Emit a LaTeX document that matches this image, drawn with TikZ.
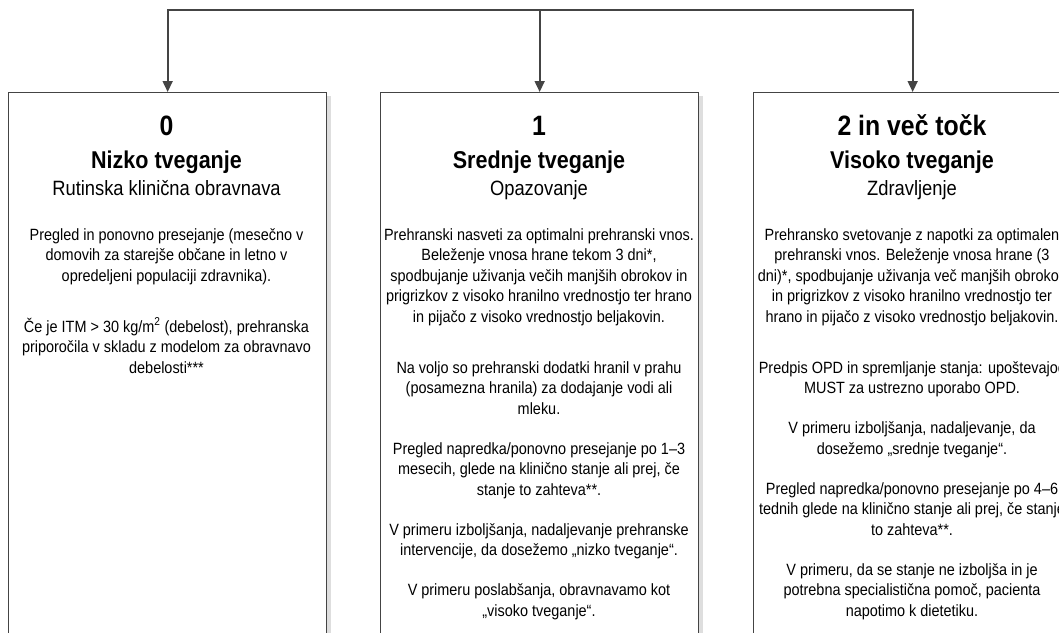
\documentclass[tikz,border=0pt]{standalone}
\usepackage{fontspec}
\setmainfont{Liberation Sans}
\newfontfamily\narrowsans[FakeStretch=0.886]{Liberation Sans}
\usetikzlibrary{arrows.meta,positioning}
\definecolor{edgegray}{HTML}{444444}
\definecolor{shadegray}{HTML}{DEDEDE}

\begin{document}
\begin{tikzpicture}[x=1pt,y=-1pt,
  riskbox/.style={draw=edgegray,line width=1.3pt,fill=white,minimum width=318pt,minimum height=560pt,inner sep=0pt,anchor=north west},
  bus/.style={draw=edgegray,line width=1.7pt},
  flow/.style={bus,-{Triangle[length=11pt,width=10pt]}},
  score/.style={anchor=base,inner sep=0pt,font=\narrowsans\bfseries\fontsize{28}{32}\selectfont},
  level/.style={anchor=base,inner sep=0pt,font=\narrowsans\bfseries\fontsize{24.3}{28}\selectfont},
  action/.style={anchor=base,inner sep=0pt,font=\narrowsans\fontsize{20.7}{24}\selectfont},
  advice/.style={anchor=north,inner sep=0pt,align=center,font=\narrowsans\fontsize{16.3}{20.5}\selectfont}]
\useasboundingbox (0,0) rectangle (1059,632);
\clip (0,0) rectangle (1059,632);
\foreach \bx/\nm in {8/0,380/1,753/2}{
  \fill[shadegray] (\bx+318.7,96) rectangle (\bx+322.5,640);
  \node[riskbox] (box\nm) at (\bx,92) {};
}
\coordinate (bus) at (box1.north |- 0,10);
\draw[flow] (bus) -| (box0.north);
\draw[flow] (bus) -| (box2.north);
\draw[flow] (bus) -- (box1.north);

\node[score] (score0) at (166.5,135) {0};
\node[level] (level0) at (166.5,168) {Nizko tveganje};
\node[action] (action0) at (166.5,195) {Rutinska klinična obravnava};
\node[advice] (advice0) at (166.5,225.6) {\strut Pregled in ponovno presejanje (mesečno v\\
  domovih za starejše občane in letno v\\
  opredeljeni populaciji zdravnika).\\[30.5pt]
  Če je ITM > 30 kg/m\textsuperscript{2} (debelost), prehranska\\
  priporočila v skladu z modelom za obravnavo\\
  debelosti***};

\node[score] (score1) at (539,135) {1};
\node[level] (level1) at (539,168) {Srednje tveganje};
\node[action] (action1) at (539,195) {Opazovanje};
\node[advice] (advice1) at (539,225.6) {\strut Prehranski nasveti za optimalni prehranski vnos.\\
  Beleženje vnosa hrane tekom 3 dni*,\\
  spodbujanje uživanja večih manjših obrokov in\\
  prigrizkov z visoko hranilno vrednostjo ter hrano\\
  in pijačo z visoko vrednostjo beljakovin.\\[30.5pt]
  Na voljo so prehranski dodatki hranil v prahu\\
  (posamezna hranila) za dodajanje vodi ali\\
  mleku.\\[19.5pt]
  Pregled napredka/ponovno presejanje po 1–3\\
  mesecih, glede na klinično stanje ali prej, če\\
  stanje to zahteva**.\\[19.5pt]
  V primeru izboljšanja, nadaljevanje prehranske\\
  intervencije, da dosežemo „nizko tveganje“.\\[19.5pt]
  V primeru poslabšanja, obravnavamo kot\\
  „visoko tveganje“.};

\node[score] (score2) at (912,135) {2 in več točk};
\node[level] (level2) at (912,168) {Visoko tveganje};
\node[action] (action2) at (912,195) {Zdravljenje};
\node[advice] (advice2) at (912,225.6) {\strut Prehransko svetovanje z napotki za optimalen\\
  prehranski vnos. Beleženje vnosa hrane (3\\
  dni)*, spodbujanje uživanja več manjših obrokov\\
  in prigrizkov z visoko hranilno vrednostjo ter\\
  hrano in pijačo z visoko vrednostjo beljakovin.\\[30.5pt]
  Predpis OPD in spremljanje stanja: upoštevajoč\\
  MUST za ustrezno uporabo OPD.\\[19.5pt]
  V primeru izboljšanja, nadaljevanje, da\\
  dosežemo „srednje tveganje“.\\[19.5pt]
  Pregled napredka/ponovno presejanje po 4–6\\
  tednih glede na klinično stanje ali prej, če stanje\\
  to zahteva**.\\[19.5pt]
  V primeru, da se stanje ne izboljša in je\\
  potrebna specialistična pomoč, pacienta\\
  napotimo k dietetiku.};
\end{tikzpicture}
\end{document}
